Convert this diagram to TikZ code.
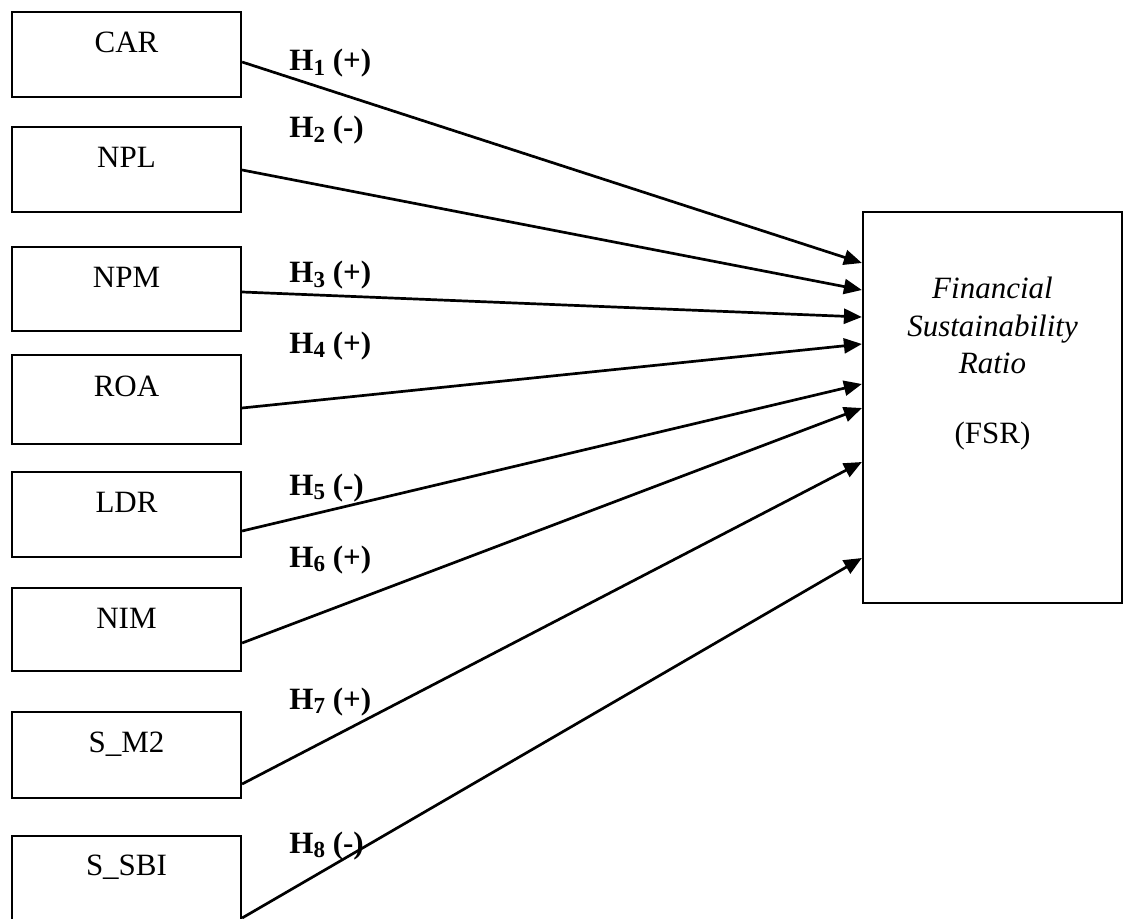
\documentclass[tikz,border=0pt]{standalone}
\usepackage{fontspec}
\setmainfont{Liberation Serif}
\usetikzlibrary{arrows.meta}
\tikzset{
  box/.style={draw=black,line width=1.1pt,minimum width=114.5pt,inner sep=0pt},
  bigbox/.style={draw=black,line width=1.1pt,minimum width=129.5pt,minimum height=195.5pt,inner sep=0pt},
  boxtext/.style={anchor=base,inner sep=0pt,font=\fontsize{15.5}{18}\selectfont},
  hyp/.style={anchor=base west,inner sep=0pt,font=\fontsize{15.5}{18}\selectfont\bfseries},
  arr/.style={line width=1.35pt,-{Triangle[length=9pt,width=7.5pt]}}
}
\newcommand{\hsub}[1]{\raisebox{-2.2pt}{\fontsize{11.5}{12}\selectfont #1}}
\begin{document}
\begin{tikzpicture}[x=0.5pt,y=-0.5pt]
\useasboundingbox (0,0) rectangle (1123,919);
\clip (0,0) rectangle (1123,919);
% left boxes
\node[box,minimum height=42.5pt] (car) at (126.5,54.5) {};
\node[box,minimum height=42.5pt] (npl) at (126.5,169.5) {};
\node[box,minimum height=42pt] (npm) at (126.5,289) {};
\node[box,minimum height=44.5pt] (roa) at (126.5,399.5) {};
\node[box,minimum height=42.5pt] (ldr) at (126.5,514.5) {};
\node[box,minimum height=41.5pt] (nim) at (126.5,629.5) {};
\node[box,minimum height=43pt] (sm2) at (126.5,755) {};
\node[box,minimum height=82pt] (ssbi) at (126.5,918) {};
\node[boxtext] (cart) at (126.5,53) {CAR};
\node[boxtext] (nplt) at (126.5,168) {NPL};
\node[boxtext] (npmt) at (126.5,288) {NPM};
\node[boxtext] (roat) at (126.5,396) {ROA};
\node[boxtext] (ldrt) at (126.5,512) {LDR};
\node[boxtext] (nimt) at (126.5,628) {NIM};
\node[boxtext] (sm2t) at (126.5,752) {S\_M2};
\node[boxtext] (ssbit) at (126.5,875) {S\_SBI};
% right box
\node[bigbox] (fsr) at (992.5,407.5) {};
\node[boxtext,font=\fontsize{15.5}{18}\selectfont\itshape] (f1) at (992.5,299) {Financial};
\node[boxtext,font=\fontsize{15.5}{18}\selectfont\itshape] (f2) at (992.5,336) {Sustainability};
\node[boxtext,font=\fontsize{15.5}{18}\selectfont\itshape] (f3) at (992.5,373) {Ratio};
\node[boxtext] (f4) at (992.5,443) {(FSR)};
% arrows
\draw[arr] (car.east |- 0,62) -- (fsr.west |- 0,263);
\draw[arr] (npl.east |- 0,170) -- (fsr.west |- 0,290);
\draw[arr] (npm.east |- 0,292) -- (fsr.west |- 0,317);
\draw[arr] (roa.east |- 0,408) -- (fsr.west |- 0,344);
\draw[arr] (ldr.east |- 0,531) -- (fsr.west |- 0,384);
\draw[arr] (nim.east |- 0,643) -- (fsr.west |- 0,408);
\draw[arr] (sm2.east |- 0,784) -- (fsr.west |- 0,462);
\draw[arr] (ssbi.east |- 0,918) -- (fsr.west |- 0,558);
% hypothesis labels
\node[hyp] (h1) at (289,71) {H\hsub{1} (+)};
\node[hyp] (h2) at (289,138) {H\hsub{2} (-)};
\node[hyp] (h3) at (289,283) {H\hsub{3} (+)};
\node[hyp] (h4) at (289,353) {H\hsub{4} (+)};
\node[hyp] (h5) at (289,495) {H\hsub{5} (-)};
\node[hyp] (h6) at (289,567) {H\hsub{6} (+)};
\node[hyp] (h7) at (289,709) {H\hsub{7} (+)};
\node[hyp] (h8) at (289,853) {H\hsub{8} (-)};
\end{tikzpicture}
\end{document}
